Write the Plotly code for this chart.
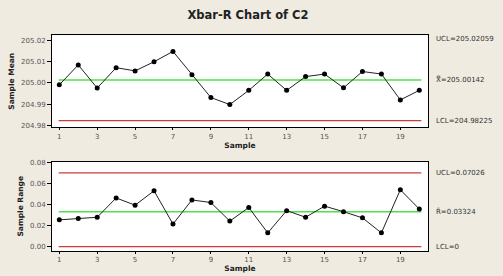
import plotly.graph_objects as go

samples = list(range(1, 21))
sample_means = [204.9991, 205.0085, 204.9976, 205.0072, 205.0057, 205.0100, 205.0149,
                205.0039, 204.9931, 204.9898, 204.9965, 205.0042, 204.9965, 205.0030,
                205.0042, 204.9977, 205.0054, 205.0042, 204.9920, 204.9965]
sample_ranges = [0.0255, 0.0268, 0.0280, 0.0464, 0.0395, 0.0532, 0.0215, 0.0445, 0.0420,
                 0.0243, 0.0373, 0.0131, 0.0343, 0.0280, 0.0386, 0.0333, 0.0274, 0.0131,
                 0.0542, 0.0358]
xbar_center = 205.00142
xbar_lcl = 204.98225
xbar_ucl = 205.02059
r_center = 0.03324
r_ucl = 0.07026
r_lcl = 0.0
x_ticks = [1, 3, 5, 7, 9, 11, 13, 15, 17, 19]
mean_ticks = [204.98, 204.99, 205.00, 205.01, 205.02]
mean_tick_text = ["204.98", "204.99", "205.00", "205.01", "205.02"]
range_ticks = [0.00, 0.02, 0.04, 0.06, 0.08]
range_tick_text = ["0.00", "0.02", "0.04", "0.06", "0.08"]

BG = "#EFEBE1"
GREEN = "#4FE04F"
RED = "#D03A3A"
FONT = "DejaVu Sans"
xr = [0.615, 20.46]

fig = go.Figure()

# Xbar chart
fig.add_trace(go.Scatter(x=[xr[0] + 0.35, xr[1] - 0.35], y=[xbar_center] * 2, mode="lines",
                         line=dict(color=GREEN, width=1.5), xaxis="x", yaxis="y", hoverinfo="skip"))
fig.add_trace(go.Scatter(x=[xr[0] + 0.35, xr[1] - 0.35], y=[xbar_lcl] * 2, mode="lines",
                         line=dict(color=RED, width=1.2), xaxis="x", yaxis="y", hoverinfo="skip"))
fig.add_trace(go.Scatter(x=samples, y=sample_means, mode="lines+markers",
                         line=dict(color="#222", width=1), marker=dict(color="black", size=5),
                         xaxis="x", yaxis="y"))

# R chart
fig.add_trace(go.Scatter(x=[xr[0] + 0.35, xr[1] - 0.35], y=[r_ucl] * 2, mode="lines",
                         line=dict(color=RED, width=1.2), xaxis="x2", yaxis="y2", hoverinfo="skip"))
fig.add_trace(go.Scatter(x=[xr[0] + 0.35, xr[1] - 0.35], y=[r_center] * 2, mode="lines",
                         line=dict(color=GREEN, width=1.5), xaxis="x2", yaxis="y2", hoverinfo="skip"))
fig.add_trace(go.Scatter(x=[xr[0] + 0.35, xr[1] - 0.35], y=[r_lcl] * 2, mode="lines",
                         line=dict(color=RED, width=1.2), xaxis="x2", yaxis="y2", hoverinfo="skip"))
fig.add_trace(go.Scatter(x=samples, y=sample_ranges, mode="lines+markers",
                         line=dict(color="#222", width=1), marker=dict(color="black", size=5),
                         xaxis="x2", yaxis="y2"))

tickfont = dict(family=FONT, size=7, color="#555")
titlefont = dict(family=FONT, size=7.5, color="#222")

axis_common = dict(showgrid=False, zeroline=False, showline=True, linecolor="black",
                   linewidth=1, mirror=True, ticks="outside", tickcolor="black",
                   tickfont=tickfont)

fig.update_layout(
    width=503, height=276, autosize=False,
    margin=dict(l=0, r=0, t=0, b=0),
    paper_bgcolor=BG, plot_bgcolor="white",
    showlegend=False,
    font=dict(family=FONT),
    xaxis=dict(domain=[0.1034, 0.8509], range=xr, tickvals=x_ticks, anchor="y", ticklen=2,
               title=dict(text="<b>Sample</b>", font=titlefont, standoff=0), **axis_common),
    yaxis=dict(domain=[0.5399, 0.8804], range=[204.9791, 205.0225], tickvals=mean_ticks,
               ticktext=mean_tick_text, anchor="x", ticklen=4,
               title=dict(text="<b>Sample Mean</b>", font=titlefont, standoff=5), **axis_common),
    xaxis2=dict(domain=[0.1034, 0.8509], range=xr, tickvals=x_ticks, anchor="y2", ticklen=2,
                title=dict(text="<b>Sample</b>", font=titlefont, standoff=1), **axis_common),
    yaxis2=dict(domain=[0.0822, 0.412], range=[-0.004, 0.0809], tickvals=range_ticks,
                ticktext=range_tick_text, anchor="x2", ticklen=4,
                title=dict(text="<b>Sample Range</b>", font=titlefont, standoff=5), **axis_common),
    title=dict(text="<b>Xbar-R Chart of C2</b>", x=0.493, xanchor="center", y=0.945,
               yanchor="middle", font=dict(family=FONT, size=11.5, color="#222")),
)

ann_font = dict(family=FONT, size=7, color="#333")
ann = [
    ("y", xbar_ucl, "UCL=205.02059"),
    ("y", xbar_center, "X\u033F=205.00142"),
    ("y", xbar_lcl, "LCL=204.98225"),
    ("y2", r_ucl, "UCL=0.07026"),
    ("y2", r_center, "R\u0304=0.03324"),
    ("y2", r_lcl, "LCL=0"),
]
for yref, yv, txt in ann:
    fig.add_annotation(x=0.862, xref="paper", y=yv, yref=yref, text=txt, showarrow=False,
                       xanchor="left", yanchor="middle", font=ann_font)

fig.write_html("out.html")
